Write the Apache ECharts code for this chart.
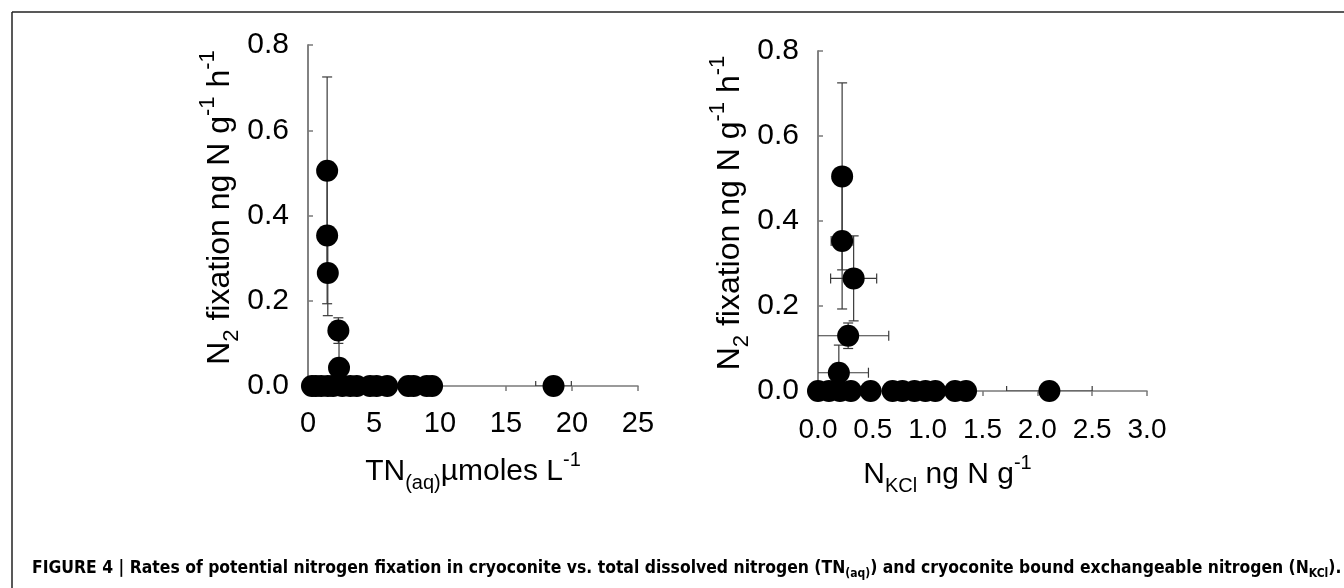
<!DOCTYPE html>
<html>
<head>
<meta charset="utf-8">
<script src="https://cdn.jsdelivr.net/npm/echarts@6/dist/echarts.min.js"></script>
<style>
html,body{margin:0;padding:0;background:#fff;}
#chart{width:1344px;height:588px;}
</style>
</head>
<body>
<div id="chart"></div>
<script>
// ---- Data ----
// Left panel: TN(aq) (µmoles L-1) vs N2 fixation
const leftX    = [1.45, 1.45, 1.5, 2.3, 2.35, 0.3, 0.6, 1.0, 1.5, 1.9, 2.6, 3.2, 3.7, 4.7, 5.2, 6.0, 7.6, 8.0, 9.0, 9.4, 18.6];
const leftY    = [0.505, 0.353, 0.265, 0.13, 0.043, 0, 0, 0, 0, 0, 0, 0, 0, 0, 0, 0, 0, 0, 0, 0, 0];
const leftYErr = [0.22, 0.16, 0.10, 0.03, 0.065, 0, 0, 0, 0, 0, 0, 0, 0, 0, 0, 0, 0, 0, 0, 0, 0];
const leftXErr = [0, 0, 0, 0, 0, 0, 0, 0, 0, 0, 0, 0, 0, 0, 0, 0, 0, 0, 0, 0, 1.35];

// Right panel: N_KCl (ng N g-1) vs N2 fixation
const rightX    = [0.22, 0.22, 0.325, 0.275, 0.19, 0.0, 0.1, 0.2, 0.3, 0.48, 0.68, 0.77, 0.88, 0.98, 1.07, 1.25, 1.35, 2.11];
const rightY    = [0.505, 0.353, 0.265, 0.13, 0.043, 0, 0, 0, 0, 0, 0, 0, 0, 0, 0, 0, 0, 0];
const rightYErr = [0.22, 0.16, 0.10, 0.03, 0.065, 0, 0, 0, 0, 0, 0, 0, 0, 0, 0, 0, 0, 0];
const rightXErr = [0, 0.1, 0.21, 0.37, 0.27, 0, 0, 0, 0, 0, 0, 0, 0, 0, 0, 0, 0, 0.39];

// Axis ticks
const leftXTicks  = {min: 0, max: 25, interval: 5};
const rightXTicks = {min: 0, max: 3, interval: 0.5};
const yTicks      = {min: 0, max: 0.8, interval: 0.2};

const yTitle = '{m|N}{sub|2}{m| fixation ng N g}{sup|-1}{m| h}{sup|-1}';
const leftXTitle = '{m|TN}{sub|(aq)}{m|µmoles L}{sup|-1}';
const rightXTitle = '{m|N}{sub|KCl}{m| ng N g}{sup|-1}';
const caption = 'FIGURE 4 | Rates of potential nitrogen fixation in cryoconite vs. total dissolved nitrogen (TN{s|(aq)}) and cryoconite bound exchangeable nitrogen (N{s|KCl}).';

// ---- Build ----
const FONT = '"Liberation Sans", Arial, sans-serif';
const CAP_FONT = '"Liberation Sans Narrow", "DejaVu Sans Condensed", Arial, sans-serif';
const AXIS_COLOR = '#7a7a7a';
const ERR_COLOR = '#3a3a3a';

function zip(xs, ys) { return xs.map((x, i) => [x, ys[i]]); }
function zipErr(xs, ys, ye, xe) { return xs.map((x, i) => [x, ys[i], ye[i], xe[i]]); }

function rich(big, small) {
  return {
    m:   {fontSize: big, fontFamily: FONT, color: '#000', lineHeight: big * 1.45},
    sub: {fontSize: small, fontFamily: FONT, color: '#000', verticalAlign: 'bottom', lineHeight: small},
    sup: {fontSize: small, fontFamily: FONT, color: '#000', verticalAlign: 'top', lineHeight: small}
  };
}

function errRender(params, api) {
  const x = api.value(0), y = api.value(1), ye = api.value(2), xe = api.value(3);
  const children = [];
  const cap = 5;
  const style = {stroke: ERR_COLOR, lineWidth: 1.2};
  if (ye > 0) {
    const top = api.coord([x, y + ye]);
    const bot = api.coord([x, Math.max(y - ye, 0)]);
    children.push({type: 'line', shape: {x1: top[0], y1: top[1], x2: bot[0], y2: bot[1]}, style});
    children.push({type: 'line', shape: {x1: top[0] - cap, y1: top[1], x2: top[0] + cap, y2: top[1]}, style});
    if (y - ye >= 0) children.push({type: 'line', shape: {x1: bot[0] - cap, y1: bot[1], x2: bot[0] + cap, y2: bot[1]}, style});
  }
  if (xe > 0) {
    const lo = api.coord([Math.max(x - xe, 0), y]);
    const hi = api.coord([x + xe, y]);
    children.push({type: 'line', shape: {x1: lo[0], y1: lo[1], x2: hi[0], y2: hi[1]}, style});
    children.push({type: 'line', shape: {x1: hi[0], y1: hi[1] - cap, x2: hi[0], y2: hi[1] + cap}, style});
    if (x - xe >= 0) children.push({type: 'line', shape: {x1: lo[0], y1: lo[1] - cap, x2: lo[0], y2: lo[1] + cap}, style});
  }
  return {type: 'group', children};
}

function xAxisCfg(grid, ticks, title, fs, dec, margin, gap, pad) {
  return {
    gridIndex: grid, type: 'value', min: ticks.min, max: ticks.max, interval: ticks.interval,
    axisLine: {show: true, onZero: false, lineStyle: {color: AXIS_COLOR, width: 1.5}},
    axisTick: {show: true, inside: false, length: 5, lineStyle: {color: AXIS_COLOR, width: 1.5}},
    splitLine: {show: false},
    axisLabel: {fontSize: fs, fontFamily: FONT, color: '#000', margin: margin,
                formatter: v => v.toFixed(dec)},
    name: title, nameLocation: 'middle', nameGap: gap,
    nameTextStyle: {rich: rich(30, 20), padding: pad}
  };
}
function yAxisCfg(grid) {
  return {
    gridIndex: grid, type: 'value', min: yTicks.min, max: yTicks.max, interval: yTicks.interval,
    axisLine: {show: true, onZero: false, lineStyle: {color: AXIS_COLOR, width: 1.5}},
    axisTick: {show: true, inside: true, length: 5, lineStyle: {color: AXIS_COLOR, width: 1.5}},
    splitLine: {show: false},
    axisLabel: {fontSize: 30, fontFamily: FONT, color: '#000', margin: 19,
                formatter: v => v.toFixed(1)},
    name: yTitle, nameLocation: 'middle', nameGap: 64, nameRotate: 90,
    nameTextStyle: {rich: rich(32, 22), padding: [0, 0, 0, 16]}
  };
}
function borderAxisCfg(grid) {
  return {
    gridIndex: grid, type: 'value', position: 'right', min: yTicks.min, max: yTicks.max,
    axisLine: {show: true, lineStyle: {color: AXIS_COLOR, width: 1.5}},
    axisTick: {show: false}, axisLabel: {show: false}, splitLine: {show: false}
  };
}

const option = {
  backgroundColor: '#fff',
  animation: false,
  title: {
    text: caption, left: 27, top: 551,
    textStyle: {
      rich: {
        s: {fontSize: 12, fontWeight: 'bold', fontFamily: CAP_FONT, color: '#000', verticalAlign: 'bottom', lineHeight: 12}
      },
      fontSize: 17.4, fontWeight: 'bold', color: '#000', lineHeight: 24, fontFamily: CAP_FONT
    }
  },
  graphic: [
    {type: 'line', shape: {x1: 12, y1: 12, x2: 1344, y2: 12}, style: {stroke: '#222', lineWidth: 1.5}},
    {type: 'line', shape: {x1: 12, y1: 12, x2: 12, y2: 588}, style: {stroke: '#222', lineWidth: 1.5}}
  ],
  grid: [
    {left: 308, right: 706, top: 45, bottom: 202},
    {left: 818, right: 197, top: 51, bottom: 197}
  ],
  xAxis: [
    xAxisCfg(0, leftXTicks, leftXTitle, 29, 0, 23, 64, [0, 0, 0, 0]),
    xAxisCfg(1, rightXTicks, rightXTitle, 28, 1, 25, 62, [0, 70, 0, 0])
  ],
  yAxis: [yAxisCfg(0), borderAxisCfg(0), yAxisCfg(1), borderAxisCfg(1)],
  series: [
    {type: 'custom', xAxisIndex: 0, yAxisIndex: 0, renderItem: errRender, clip: true, z: 1,
     encode: {x: 0, y: 1}, data: zipErr(leftX, leftY, leftYErr, leftXErr)},
    {type: 'scatter', xAxisIndex: 0, yAxisIndex: 0, symbol: 'circle', symbolSize: 22, z: 3,
     itemStyle: {color: '#000', opacity: 1}, data: zip(leftX, leftY)},
    {type: 'custom', xAxisIndex: 1, yAxisIndex: 2, renderItem: errRender, clip: true, z: 1,
     encode: {x: 0, y: 1}, data: zipErr(rightX, rightY, rightYErr, rightXErr)},
    {type: 'scatter', xAxisIndex: 1, yAxisIndex: 2, symbol: 'circle', symbolSize: 22, z: 3,
     itemStyle: {color: '#000', opacity: 1}, data: zip(rightX, rightY)}
  ]
};

const chart = echarts.init(document.getElementById('chart'), null, {renderer: 'canvas'});
chart.setOption(option);
</script>
</body>
</html>
